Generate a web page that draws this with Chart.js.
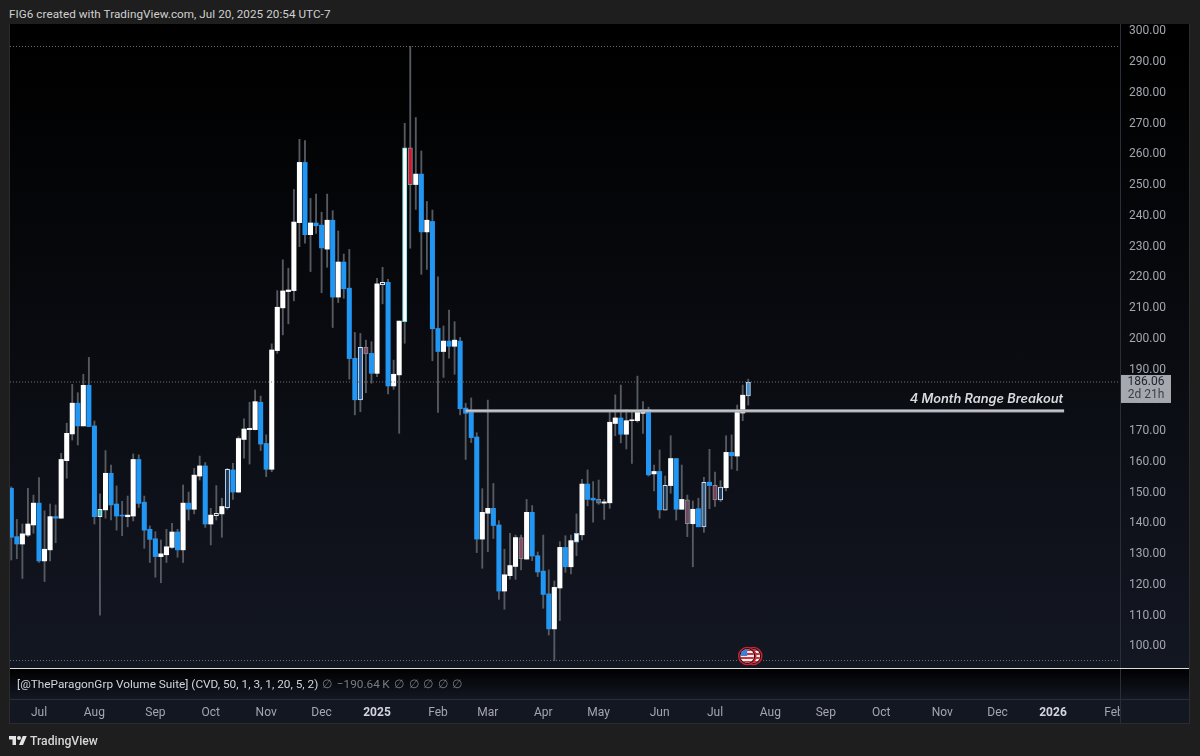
<!DOCTYPE html>
<html>
<head>
<meta charset="utf-8">
<title>FIG6 weekly candles</title>
<script src="https://cdn.jsdelivr.net/npm/chart.js@4"></script>
<style>
  html, body { margin: 0; padding: 0; background: #1e1e1e; }
  body { position: relative; width: 1200px; height: 756px; overflow: hidden; font-family: Roboto, "Noto Sans", sans-serif; }
  .abs { position: absolute; }
  #title { left: 9px; top: 6px; font-size: 11.7px; line-height: 16px; color: #d0d0d0; white-space: nowrap; letter-spacing: 0.05px; }
  #pane-main { left: 10px; top: 24px; width: 1180px; height: 644px; background: linear-gradient(#000 0%, #000 4%, #131722 100%); }
  #pane-volume { left: 10px; top: 669px; width: 1180px; height: 30px; background: linear-gradient(#000 0%, #131722 100%); }
  #pane-time { left: 10px; top: 700px; width: 1180px; height: 23px; background: #131722; }
  #split { left: 10px; top: 668px; width: 1180px; height: 1px; background: #dcdde0; }
  #time-line { left: 10px; top: 699px; width: 1180px; height: 1px; background: #2a2e39; }
  #price-line { left: 1120px; top: 24px; width: 1px; height: 699px; background: #2a2e39; }
  #frame { left: 9px; top: 24px; width: 1181px; height: 700px; border-left: 1px solid #2c2c2c; border-right: 1px solid #2c2c2c; border-bottom: 1px solid #2c2c2c; box-sizing: border-box; }
  #chart { position: absolute; left: 0; top: 0; }
  #legend { left: 17px; top: 676px; font-size: 11.8px; line-height: 16px; color: #d1d4dc; white-space: nowrap; }
  #legend span { color: #787b86; word-spacing: 1.6px; margin-left: 4px; }
  #logo { left: 9px; top: 734px; }
  #brand { left: 30px; top: 732px; font-size: 12.2px; line-height: 18px; color: #d6d6d6; font-weight: 500; }
</style>
</head>
<body>
<div class="abs" id="title">FIG6 created with TradingView.com, Jul 20, 2025 20:54 UTC-7</div>
<div class="abs" id="pane-main"></div>
<div class="abs" id="pane-volume"></div>
<div class="abs" id="pane-time"></div>
<div class="abs" id="time-line"></div>
<div class="abs" id="price-line"></div>
<div class="abs" id="split"></div>
<div class="abs" id="frame"></div>
<canvas id="chart" width="1200" height="756"></canvas>
<div class="abs" id="legend">[@TheParagonGrp Volume Suite] (CVD, 50, 1, 3, 1, 20, 5, 2)<span>∅ −190.64&#8201;K ∅ ∅ ∅ ∅ ∅</span></div>
<svg class="abs" id="logo" width="18" height="14" viewBox="0 0 36 28"><path fill="#e4e4e4" d="M14 22H7V11H0V4h14v18zM28 22h-8l7.5-18h8L28 22z"/><circle fill="#e4e4e4" cx="20" cy="8" r="4"/></svg>
<div class="abs" id="brand">TradingView</div>

<script>
// ============================================================
// FIG6 candles, values
// ============================================================
const barOpen = [
  151.1, 135.4, 133.0, 135.9, 139.2, 146.3, 127.5, 131.1, 141.9, 141.4,
  160.1, 168.8, 178.8, 171.4, 184.6, 171.4, 141.9, 144.1, 156.0, 146.0,
  142.4, 141.9, 142.1, 160.5, 146.6, 137.8, 134.7, 128.9, 129.5, 131.9,
  136.9, 131.1, 146.3, 144.3, 155.1, 158.4, 139.5, 142.2, 142.8, 157.3,
  157.1, 149.9, 167.0, 170.2, 170.2, 179.1, 165.7, 157.3, 195.9, 209.8,
  215.1, 215.4, 237.5, 257.1, 233.6, 237.4, 236.7, 228.9, 238.3, 213.3,
  224.7, 216.2, 193.4, 197.0, 197.0, 195.0, 188.5, 218.1, 218.1, 184.4,
  188.0, 205.3, 261.8, 249.9, 253.3, 234.5, 237.9, 203.1, 195.6, 199.0,
  197.3, 199.0, 177.2, 175.8, 167.8, 134.6, 143.0, 144.6, 139.2, 117.7,
  122.7, 125.7, 135.1, 128.1, 143.3, 129.2, 124.2, 116.8, 105.4, 118.7,
  131.9, 125.6, 133.6, 136.0, 152.5, 147.9, 147.5, 146.3, 146.4, 172.2,
  174.0, 168.7, 173.1, 173.1, 175.5, 176.8, 155.8, 156.6, 144.0, 152.0,
  160.8, 144.3, 147.4, 139.6, 144.5, 138.6, 153.1, 152.1, 147.3, 151.3,
  162.8, 161.6, 175.6, 181.2,
];
const barHigh = [
  151.6, 141.0, 139.5, 151.1, 148.9, 154.6, 143.8, 146.0, 145.7, 162.5,
  172.3, 184.9, 182.2, 188.2, 193.7, 173.0, 149.3, 163.4, 158.7, 151.9,
  146.9, 148.6, 162.3, 162.0, 148.6, 138.9, 137.0, 134.3, 137.8, 139.7,
  137.8, 152.2, 149.9, 157.6, 161.6, 159.5, 144.6, 152.0, 147.9, 157.6,
  159.2, 167.9, 173.7, 179.1, 183.1, 181.1, 168.5, 198.1, 215.4, 225.4,
  222.7, 248.3, 264.6, 264.2, 245.4, 246.8, 240.9, 246.8, 241.4, 234.8,
  227.3, 228.8, 201.8, 201.5, 199.3, 198.8, 219.4, 223.0, 219.1, 192.8,
  205.5, 269.8, 294.8, 271.7, 260.8, 244.4, 241.6, 219.9, 203.9, 209.1,
  205.3, 200.2, 178.8, 180.5, 169.2, 151.0, 179.8, 152.7, 140.6, 131.3,
  136.5, 135.9, 135.9, 147.5, 145.5, 130.4, 135.9, 124.6, 121.0, 133.8,
  135.7, 135.9, 142.8, 154.0, 157.1, 153.3, 153.8, 147.5, 175.8, 181.5,
  184.7, 176.8, 176.0, 187.6, 179.3, 177.5, 158.7, 163.6, 155.1, 168.2,
  160.8, 158.7, 148.9, 147.0, 147.9, 154.7, 163.8, 156.4, 153.6, 168.2,
  168.5, 178.2, 184.7, 186.6,
];
const barLow = [
  127.8, 128.2, 121.8, 135.4, 136.5, 127.0, 120.8, 127.5, 133.4, 141.4,
  154.4, 166.8, 165.2, 171.4, 171.2, 139.5, 109.9, 141.4, 140.8, 137.5,
  135.7, 138.6, 140.5, 144.9, 131.6, 127.0, 122.2, 120.4, 127.0, 131.6,
  128.7, 127.0, 140.8, 142.8, 153.8, 138.4, 132.7, 140.8, 135.2, 144.3,
  147.5, 149.7, 160.9, 159.0, 170.1, 163.4, 154.9, 156.5, 195.0, 201.0,
  204.6, 212.1, 229.7, 230.8, 221.6, 234.0, 214.7, 223.0, 203.4, 211.5,
  212.9, 186.6, 175.0, 176.0, 182.2, 185.3, 187.4, 211.1, 181.8, 183.3,
  169.0, 198.3, 229.2, 241.8, 220.7, 222.3, 192.6, 175.8, 187.2, 193.4,
  188.2, 175.0, 160.5, 166.0, 130.2, 125.1, 130.5, 134.8, 115.0, 111.8,
  121.6, 121.5, 124.6, 128.1, 127.6, 122.4, 112.1, 103.4, 95.1, 108.1,
  123.8, 123.3, 129.2, 134.3, 145.4, 140.1, 145.9, 141.0, 144.6, 168.2,
  165.9, 163.9, 159.2, 172.6, 169.0, 155.1, 150.3, 141.4, 144.0, 149.5,
  140.8, 144.3, 135.4, 125.6, 138.6, 136.8, 144.5, 145.2, 146.8, 150.3,
  157.4, 156.9, 173.1, 178.2,
];
const barClose = [
  135.2, 133.0, 136.3, 139.5, 146.3, 127.5, 131.3, 141.9, 141.4, 160.5,
  169.0, 178.8, 171.4, 184.6, 171.2, 141.9, 144.3, 156.0, 145.7, 142.1,
  142.1, 142.4, 160.5, 146.2, 137.5, 134.5, 128.9, 129.8, 132.1, 136.9,
  131.1, 146.3, 144.3, 155.4, 158.4, 139.5, 142.4, 143.0, 145.2, 144.8,
  149.9, 167.3, 170.4, 170.6, 179.3, 165.5, 157.3, 196.1, 210.0, 215.3,
  215.6, 237.7, 257.1, 233.6, 237.4, 236.5, 229.3, 238.3, 213.3, 224.7,
  216.0, 193.3, 179.9, 179.9, 194.8, 188.5, 217.6, 217.3, 184.4, 188.2,
  205.5, 261.8, 249.9, 253.3, 234.5, 238.3, 203.0, 195.6, 199.0, 197.3,
  199.3, 177.0, 175.5, 167.6, 134.6, 143.3, 144.6, 139.0, 117.7, 123.0,
  126.0, 135.1, 128.2, 143.3, 129.1, 123.9, 116.6, 105.4, 118.9, 131.9,
  125.6, 134.1, 136.5, 152.5, 147.5, 147.3, 146.3, 146.7, 172.6, 174.0,
  168.7, 173.1, 173.4, 175.9, 176.6, 155.5, 156.6, 144.1, 152.1, 160.8,
  144.3, 147.5, 139.6, 144.3, 138.6, 153.1, 152.0, 147.3, 151.5, 162.8,
  161.7, 175.8, 181.4, 185.7,
];

const priceTicks = [100, 110, 120, 130, 140, 150, 160, 170, 180, 190, 200, 210, 220, 230, 240, 250, 260, 270, 280, 290, 300];
const monthBars = [5, 15, 26, 36, 46, 56, 66, 77, 86, 96, 106, 117, 127, 137, 147, 157, 168, 178, 188, 199];
const monthLabels = ["Jul", "Aug", "Sep", "Oct", "Nov", "Dec", "2025", "Feb", "Mar", "Apr", "May", "Jun", "Jul", "Aug", "Sep", "Oct", "Nov", "Dec", "2026", "Feb"];
const yearLabels = ["2025", "2026"];

const lastLevel = 185.7;
const lastPriceText = "186.06";
const allTimeHigh = 294.8;
const allTimeLow = 95.1;
const rangeLevel = 176.3;
const rangeStartBar = 82;
const rangeEndBar = 190;
const rangeText = "4 Month Range Breakout";
const countdownText = "2d 21h";

// ------------------------------------------------------------
// Candle styling
// ------------------------------------------------------------
const UP_COLOR = "#ffffff";
const DOWN_COLOR = "#2196f3";
const WICK_COLOR = "#565a61";
const DOT_COLOR = "#6f7279";

// bars TradingView paints with an outline (selected signal bars)
const OUTLINE_STYLE = {
  16: { fill: "#49c1c1", line: "#e8f6f6" },
  37: { fill: "#1d2a3a", line: "#e4e9ee" },
  39: { fill: "#1c3a5e", line: "#cfe0f0" },
  63: { fill: "#2a5f9c", line: "#d7e4f2" },
  64: { fill: "#8a4a60", line: "#7d8794" },
  67: { fill: "#1d2a3a", line: "#e4e9ee" },
  71: { fill: "#ffffff", line: "#79dcdc" },
  72: { fill: "#d4182d", line: "#8c8f96" },
  92: { fill: "#8a4a60", line: "#7d8794" },
  102: { fill: "#ffffff", line: "#8fb6d8" },
  106: { fill: "#3a6a9c", line: "#7d8794" },
  118: { fill: "#1c3550", line: "#cfe0f0" },
  122: { fill: "#6d4a62", line: "#868b94" },
  125: { fill: "#3a5a80", line: "#cfe0f0" },
  127: { fill: "#7d3f55", line: "#868b94" },
  128: { fill: "#1c3a5e", line: "#cfe0f0" },
  133: { fill: "#4a8ccc", line: "#c9dcee" },
};

function bodyFill(i) {
  if (OUTLINE_STYLE[i]) return OUTLINE_STYLE[i].fill;
  return barClose[i] >= barOpen[i] ? UP_COLOR : DOWN_COLOR;
}

function bodyLine(i) {
  return OUTLINE_STYLE[i] ? OUTLINE_STYLE[i].line : bodyFill(i);
}

const bodyData = barOpen.map((o, i) => ({ x: i, y: [o, barClose[i]] }));
const wickData = barLow.map((l, i) => ({ x: i, y: [l, barHigh[i]] }));

const X_MIN = -0.235;
const X_MAX = 200.09;

function flatLine(label, price, from, to, color, width, dash) {
  return {
    type: "line",
    label,
    data: [{ x: from, y: price }, { x: to, y: price }],
    borderColor: color,
    borderWidth: width,
    borderDash: dash || [],
    pointRadius: 0,
    order: 1,
  };
}

// text, price tag and the event marker sit on top of the scales
const overlayPlugin = {
  id: "overlay",
  afterDraw(chart) {
    const { ctx } = chart;
    const x = chart.scales.x;
    const y = chart.scales.y;

    // "Feb" runs into the price axis and gets cut there
    ctx.save();
    ctx.fillStyle = "#131722";
    ctx.fillRect(1120, 701, 14, 21);
    ctx.fillStyle = "#2a2e39";
    ctx.fillRect(1120, 700, 1, 23);

    // range label
    ctx.font = "italic 600 12.8px Inter, Roboto, sans-serif";
    ctx.fillStyle = "#d9dadc";
    ctx.textAlign = "right";
    ctx.textBaseline = "middle";
    ctx.fillText(rangeText, x.getPixelForValue(rangeEndBar) - 1, y.getPixelForValue(rangeLevel) - 12);

    // price tag
    const py = y.getPixelForValue(lastLevel);
    ctx.fillStyle = "#a6a8b0";
    ctx.fillRect(1121, py - 7, 50, 28);
    ctx.font = "12px Roboto, sans-serif";
    ctx.textAlign = "center";
    ctx.fillStyle = "#23262e";
    ctx.fillText(lastPriceText, 1146, py + 0.5);
    ctx.fillStyle = "#3c3f48";
    ctx.fillText(countdownText, 1146, py + 13.5);

    // earnings / economic event marker
    const ex = x.getPixelForValue(barOpen.length - 1) - 1;
    const ey = 656;
    drawFlag(ctx, ex + 6, ey);
    drawFlag(ctx, ex, ey);
    ctx.restore();
  },
};

function drawFlag(ctx, cx, cy) {
  ctx.save();
  ctx.beginPath();
  ctx.arc(cx, cy, 8.6, 0, Math.PI * 2);
  ctx.fillStyle = "#15181f";
  ctx.fill();
  ctx.lineWidth = 1.4;
  ctx.strokeStyle = "#d3202f";
  ctx.stroke();
  ctx.beginPath();
  ctx.arc(cx, cy, 6.8, 0, Math.PI * 2);
  ctx.clip();
  ctx.fillStyle = "#f2f2f2";
  ctx.fillRect(cx - 8, cy - 8, 16, 16);
  ctx.fillStyle = "#d3303c";
  for (let row = -7; row < 8; row += 4) ctx.fillRect(cx - 8, cy + row, 16, 2);
  ctx.fillStyle = "#3f7fd6";
  ctx.fillRect(cx - 8, cy - 8, 8, 8);
  ctx.restore();
}

const isYearTick = (c) => yearLabels.includes(monthLabels[c.index]);

new Chart(document.getElementById("chart"), {
  type: "bar",
  plugins: [overlayPlugin],
  data: {
    datasets: [
      flatLine("Range top", rangeLevel, rangeStartBar, rangeEndBar, "#dfe0e3", 1),
      flatLine("Range", rangeLevel, rangeStartBar, rangeEndBar, "#9b9da3", 3.4),
      flatLine("High", allTimeHigh, X_MIN, X_MAX, DOT_COLOR, 1, [1, 2]),
      flatLine("Low", allTimeLow, X_MIN, X_MAX, DOT_COLOR, 1, [1, 2]),
      flatLine("Last", lastLevel, X_MIN, X_MAX, DOT_COLOR, 1, [1, 2]),
      {
        label: "Body",
        data: bodyData,
        grouped: false,
        barThickness: 4.4,
        backgroundColor: (c) => bodyFill(c.dataIndex),
        borderColor: (c) => bodyLine(c.dataIndex),
        borderWidth: (c) => (OUTLINE_STYLE[c.dataIndex] ? 1 : 0),
        borderSkipped: false,
        order: 2,
      },
      {
        label: "Wick",
        data: wickData,
        grouped: false,
        barThickness: 1.2,
        backgroundColor: WICK_COLOR,
        borderWidth: 0,
        order: 3,
      },
    ],
  },
  options: {
    responsive: false,
    animation: false,
    devicePixelRatio: 1,
    layout: { padding: { left: 10, top: 24, right: 10, bottom: 0 } },
    plugins: { legend: { display: false }, tooltip: { enabled: false } },
    scales: {
      x: {
        type: "linear",
        offset: false,
        min: X_MIN,
        max: X_MAX,
        grid: { display: false, drawTicks: false },
        border: { display: false },
        afterFit: (scale) => {
          scale.height = 88;
          scale.paddingLeft = 0;
          scale.paddingRight = 0;
        },
        afterBuildTicks: (scale) => { scale.ticks = monthBars.map((value) => ({ value })); },
        ticks: {
          autoSkip: false,
          maxRotation: 0,
          padding: 38,
          color: (c) => (isYearTick(c) ? "#d1d4dc" : "#a3a6af"),
          font: (c) => ({
            family: "Roboto, sans-serif",
            size: 12,
            weight: isYearTick(c) ? "700" : "400",
          }),
          callback: (value, index) => monthLabels[index],
        },
      },
      y: {
        position: "right",
        min: 92.68,
        max: 302.11,
        grid: { display: false, drawTicks: false },
        border: { display: false },
        afterFit: (scale) => {
          scale.width = 70;
          scale.paddingTop = 0;
          scale.paddingBottom = 0;
        },
        afterBuildTicks: (scale) => { scale.ticks = priceTicks.map((value) => ({ value })); },
        ticks: {
          autoSkip: false,
          padding: 9,
          labelOffset: 1,
          color: "#a3a6af",
          font: { family: "Roboto, sans-serif", size: 12 },
          callback: (value) => Number(value).toFixed(2),
        },
      },
    },
  },
});
</script>
</body>
</html>
